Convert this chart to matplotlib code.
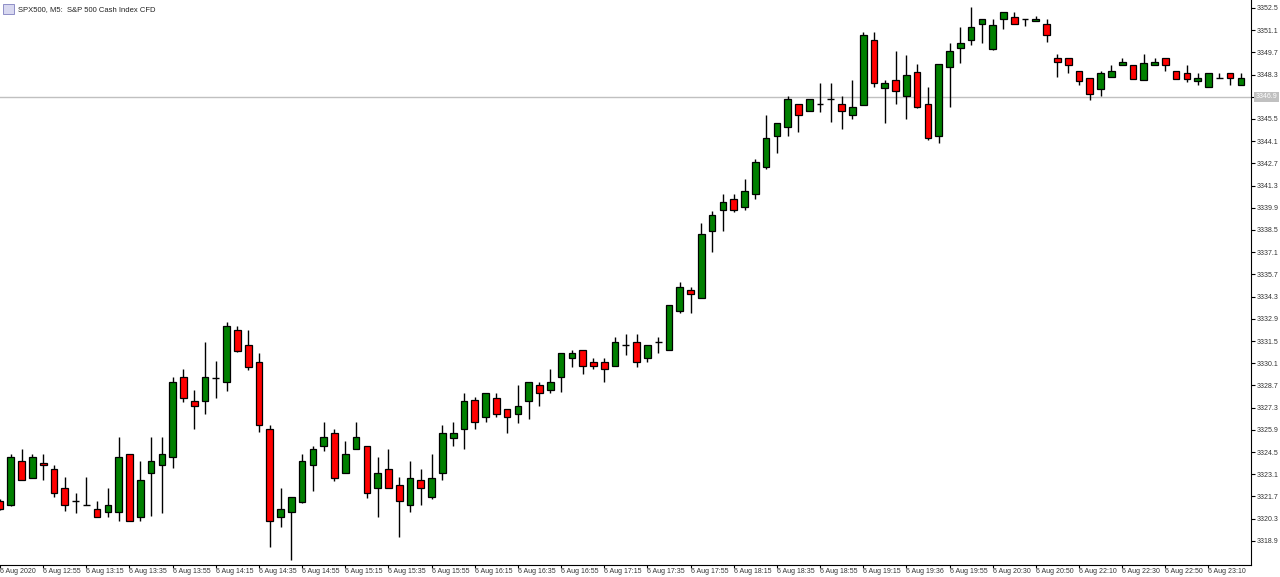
import matplotlib
matplotlib.use("Agg")
import matplotlib.pyplot as plt
import numpy as np

plt.rcParams['font.family'] = ['Liberation Sans', 'DejaVu Sans']

opens = [3321.42,3321.16,3323.94,3322.87,3323.81,3323.43,3322.24,3321.42,3321.16,3320.91,
         3320.72,3320.72,3324.38,3320.40,3323.18,3323.69,3324.19,3329.23,3327.72,3327.72,
         3329.16,3328.92,3332.20,3331.25,3330.18,3325.95,3320.40,3320.72,3321.35,3323.69,
         3324.88,3325.70,3323.18,3324.69,3324.88,3322.24,3323.43,3322.43,3321.16,3322.74,
         3321.67,3323.18,3325.39,3325.95,3327.78,3326.71,3327.91,3327.22,3326.90,3327.72,
         3328.73,3328.41,3329.23,3330.43,3330.93,3330.18,3330.18,3329.93,3331.25,3331.44,
         3330.43,3331.44,3330.93,3333.39,3334.72,3334.21,3338.44,3339.76,3340.45,3339.95,
         3340.77,3342.47,3344.43,3344.99,3346.44,3346.00,3346.44,3346.76,3346.44,3345.75,
         3346.38,3350.48,3347.45,3347.96,3346.95,3348.46,3346.44,3344.43,3348.78,3349.97,
         3350.48,3351.49,3349.91,3351.80,3351.93,3351.80,3351.68,3351.49,3349.34,3349.34,
         3348.52,3348.08,3347.39,3348.15,3348.90,3348.90,3347.96,3348.90,3349.34,3348.52,
         3348.40,3347.89,3347.51,3348.08,3348.40,3347.64]
highs = [3321.54,3324.38,3324.69,3324.38,3324.38,3323.69,3322.93,3321.92,3322.93,3321.42,
         3322.24,3325.45,3324.38,3323.94,3325.45,3325.45,3329.23,3329.74,3328.41,3331.44,
         3330.24,3332.70,3332.45,3332.20,3330.75,3326.20,3322.24,3321.67,3324.38,3324.88,
         3326.39,3325.95,3325.20,3326.39,3324.88,3324.19,3324.69,3322.93,3323.94,3323.43,
         3324.38,3326.20,3326.39,3328.22,3327.97,3328.22,3328.22,3327.22,3328.73,3328.92,
         3328.92,3329.74,3330.75,3330.93,3330.93,3330.43,3330.43,3331.75,3331.94,3331.94,
         3331.25,3331.75,3333.77,3335.22,3334.90,3338.94,3339.70,3340.77,3340.77,3341.71,
         3342.98,3345.75,3345.25,3346.95,3346.44,3346.76,3347.77,3347.77,3346.95,3347.96,
         3350.98,3350.98,3347.96,3349.78,3349.53,3348.96,3347.51,3348.96,3350.29,3351.30,
         3352.56,3351.80,3351.80,3352.24,3352.24,3351.80,3351.99,3351.80,3349.60,3349.34,
         3348.52,3348.08,3348.52,3348.90,3349.34,3348.90,3349.60,3349.34,3349.34,3348.52,
         3348.90,3348.40,3348.40,3348.40,3348.40,3348.40]
lows = [3320.85,3321.10,3322.74,3322.87,3322.74,3321.67,3320.78,3320.66,3321.16,3320.40,
        3320.40,3320.15,3320.15,3320.15,3320.47,3320.66,3323.50,3327.66,3325.95,3326.90,
        3327.91,3328.35,3330.81,3329.68,3325.77,3318.51,3319.78,3317.69,3321.29,3322.05,
        3324.57,3322.68,3323.18,3324.69,3321.61,3320.40,3322.24,3319.14,3320.72,3321.16,
        3321.54,3322.74,3324.88,3324.69,3325.95,3326.39,3326.71,3325.70,3326.33,3326.58,
        3327.41,3328.22,3328.29,3329.86,3329.42,3329.74,3328.92,3329.93,3330.62,3329.86,
        3330.18,3330.75,3330.93,3333.27,3333.27,3334.21,3337.11,3338.44,3339.63,3339.76,
        3340.45,3342.35,3343.35,3344.43,3344.68,3346.00,3345.94,3345.31,3344.87,3345.50,
        3346.38,3347.51,3345.25,3346.44,3345.50,3346.19,3344.17,3343.98,3346.25,3349.03,
        3350.16,3350.29,3349.85,3351.17,3351.49,3351.36,3351.68,3350.35,3348.15,3348.40,
        3347.64,3346.70,3346.95,3348.15,3348.90,3348.02,3347.96,3348.90,3348.52,3348.02,
        3347.83,3347.64,3347.51,3348.08,3347.64,3347.64]
closes = [3320.91,3324.19,3322.74,3324.19,3323.69,3321.92,3321.16,3321.42,3321.16,3320.40,
          3321.16,3324.19,3320.15,3322.74,3323.94,3324.38,3328.92,3327.91,3327.41,3329.23,
          3329.16,3332.45,3330.87,3329.86,3326.20,3320.15,3320.91,3321.67,3323.94,3324.69,
          3325.45,3322.87,3324.38,3325.45,3321.92,3323.18,3322.24,3321.42,3322.87,3322.24,
          3322.87,3325.70,3325.70,3327.72,3326.39,3328.22,3326.90,3326.71,3327.41,3328.92,
          3328.22,3328.92,3330.75,3330.75,3329.93,3329.93,3329.74,3331.44,3331.25,3330.18,
          3331.25,3331.44,3333.77,3334.90,3334.46,3338.25,3339.44,3340.26,3339.76,3340.96,
          3342.79,3344.30,3345.25,3346.76,3345.75,3346.76,3346.44,3346.76,3346.00,3346.25,
          3350.79,3347.77,3347.77,3347.26,3348.27,3346.25,3344.30,3348.96,3349.78,3350.29,
          3351.30,3351.80,3351.42,3352.24,3351.49,3351.80,3351.80,3350.79,3349.09,3348.90,
          3347.89,3347.07,3348.40,3348.52,3349.09,3348.02,3349.03,3349.09,3348.90,3348.02,
          3348.02,3348.08,3348.40,3348.08,3348.08,3348.08]

time_labels = ["6 Aug 2020","6 Aug 12:55","6 Aug 13:15","6 Aug 13:35","6 Aug 13:55","6 Aug 14:15",
               "6 Aug 14:35","6 Aug 14:55","6 Aug 15:15","6 Aug 15:35","6 Aug 15:55","6 Aug 16:15",
               "6 Aug 16:35","6 Aug 16:55","6 Aug 17:15","6 Aug 17:35","6 Aug 17:55","6 Aug 18:15",
               "6 Aug 18:35","6 Aug 18:55","6 Aug 19:15","6 Aug 19:36","6 Aug 19:55","6 Aug 20:30",
               "6 Aug 20:50","6 Aug 22:10","6 Aug 22:30","6 Aug 22:50","6 Aug 23:10"]
price_ticks = [3352.5 - 1.4*k for k in range(25)]
current_price = 3346.9

o = np.array(opens); h = np.array(highs); l = np.array(lows); c = np.array(closes)
x = np.arange(len(o))

fig = plt.figure(figsize=(12.8, 5.77), dpi=100)
ax = fig.add_axes([0.0, 0.0208, 0.977, 0.9792])
ax.set_xlim(0.09, 115.9)
ax.set_ylim(3317.38, 3353.0)

ax.axhline(current_price, color='#c0c0c0', lw=1, zorder=0)
ax.vlines(x, l, h, color='black', lw=1, zorder=1)
up = c > o
dn = c < o
eq = c == o
w = 0.62
ax.bar(x[up], (c - o)[up], bottom=o[up], width=w, color='#008000', edgecolor='black', lw=0.9, zorder=2)
ax.bar(x[dn], (o - c)[dn], bottom=c[dn], width=w, color='#ff0000', edgecolor='black', lw=0.9, zorder=2)
ax.hlines(o[eq], x[eq] - w/2, x[eq] + w/2, color='black', lw=1, zorder=2)

for s in ['top', 'left']:
    ax.spines[s].set_visible(False)
ax.yaxis.tick_right()
ax.set_yticks(price_ticks)
ax.set_yticklabels([f"{v:.1f}" for v in price_ticks], fontsize=5, color='#333333')
ax.tick_params(axis='y', length=3, pad=1.5, width=0.8)
ax.set_xticks(np.arange(0, 4*len(time_labels), 4))
ax.set_xticklabels(time_labels, fontsize=5, ha='left', color='#333333')
ax.tick_params(axis='x', length=2, pad=0.5, width=0.8)

ax.text(1.004, (current_price - 3317.38)/(3353.0-3317.38), f"{current_price:.1f}",
        transform=ax.transAxes, fontsize=5, color='white', va='center', ha='left',
        bbox=dict(boxstyle='square,pad=0.2', fc='#c0c0c0', ec='none'), zorder=5)
fig.text(0.014, 0.99, "SPX500, M5:  S&P 500 Cash Index CFD", fontsize=5.5, va='top', ha='left', color='#222222')
fig.patches.append(matplotlib.patches.Rectangle((0.002, 0.975), 0.009, 0.018, transform=fig.transFigure,
                   fc='#d8d8f0', ec='#8080c0', lw=0.6))
fig.savefig("out.png", dpi=100)
